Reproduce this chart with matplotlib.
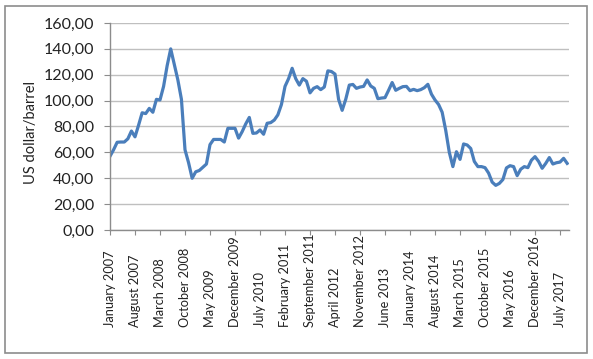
import matplotlib
matplotlib.use("Agg")
import matplotlib.pyplot as plt
from matplotlib.patches import Rectangle

# monthly price, January 2007 .. September 2017
prices = [
    57, 62, 67.8, 68, 68, 70.5, 76.5, 72, 81, 90.6, 90, 94,            # 2007
    91, 101, 100.5, 111, 127, 140, 128, 116, 101, 62, 52, 40,          # 2008
    45, 46, 48.5, 51, 66, 70, 70, 70, 68, 78.6, 78.6, 78.6,            # 2009
    71, 76, 82, 87, 74.7, 75, 77.3, 74, 82.5, 83, 85, 89,              # 2010
    97, 111, 117, 125, 117, 112, 117, 115, 106, 109.5, 110.8, 108.5,   # 2011
    110.5, 123, 122.5, 120.5, 101, 92.5, 101, 112, 112.5, 109.5, 110.5, 111,  # 2012
    116, 111.3, 109.5, 101.5, 102, 102.3, 108, 114, 108, 109.5, 110.8, 111,   # 2013
    107.7, 108.7, 107.7, 108.5, 110, 112.6, 105, 100.5, 97, 91, 77, 60,       # 2014
    49, 60.5, 54.6, 66.5, 65.7, 63, 53, 49, 49, 48.2, 44, 37,          # 2015
    34.5, 36, 39, 48, 49.7, 49, 42, 47, 49, 48.2, 54, 56.7,            # 2016
    53, 47.7, 51.5, 56, 51, 52, 52.5, 55.4, 51.5,                      # 2017
]
months = list(range(len(prices)))

# every 7th month gets a label
tick_labels = ["January 2007", "August 2007", "March 2008", "October 2008",
               "May 2009", "December 2009", "July 2010", "February 2011",
               "September 2011", "April 2012", "November 2012", "June 2013",
               "January 2014", "August 2014", "March 2015", "October 2015",
               "May 2016", "December 2016", "July 2017"]
tick_pos = [7 * i for i in range(len(tick_labels))]
y_ticks = [0, 20, 40, 60, 80, 100, 120, 140, 160]

plt.rcParams['font.family'] = ['Lato', 'DejaVu Sans']

W, H = 593, 359
fig = plt.figure(figsize=(W / 100, H / 100), dpi=100)

# outer chart border
fig.patches.append(Rectangle((4.5 / W, 1 - 352.5 / H), 582 / W, 347 / H,
                             transform=fig.transFigure, fill=False,
                             edgecolor="#8c8c8c", linewidth=1.2))

left, right, top, bottom = 110, 568.6, 23, 230
ax = fig.add_axes([left / W, 1 - bottom / H, (right - left) / W, (bottom - top) / H])

ax.plot(months, prices, color="#4a7ebb", linewidth=2.3, solid_joinstyle="round")

ax.set_xlim(0, 128.4)
ax.set_ylim(0, 160)
ax.set_yticks(y_ticks)
ax.set_yticklabels([f"{v:.2f}".replace(".", ",") for v in y_ticks])
ax.yaxis.grid(True, color="#bfbfbf", linewidth=1.0)
ax.set_axisbelow(True)

ax.set_xticks(tick_pos)
ax.set_xticklabels(tick_labels, rotation=90, fontsize=9.2)
for lbl in ax.get_xticklabels():
    lbl.set_va("bottom")

for s in ["top", "right"]:
    ax.spines[s].set_visible(False)
for s in ["left", "bottom"]:
    ax.spines[s].set_color("#8c8c8c")
    ax.spines[s].set_linewidth(1.0)

ax.tick_params(axis="y", direction="out", length=4.5, width=0.8, color="#8c8c8c",
               pad=7, labelsize=11.5, labelcolor="#222222")
ax.tick_params(axis="x", direction="out", length=3.5, width=0.8, color="#8c8c8c",
               pad=66, labelcolor="#222222")

fig.text(31 / W, 1 - 133 / H, "US dollar/barrel", rotation=90, fontsize=10.5,
         ha="center", va="center", color="#222222")

fig.savefig("out.png", dpi=100)
